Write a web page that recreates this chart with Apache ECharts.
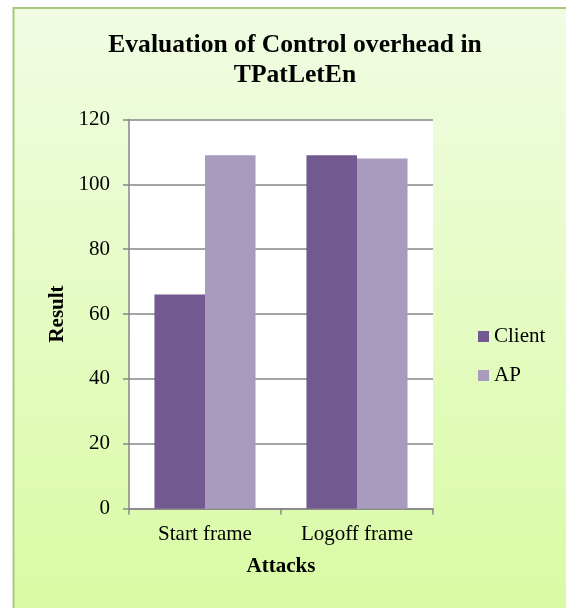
<!DOCTYPE html>
<html>
<head>
<meta charset="utf-8">
<script src="https://cdn.jsdelivr.net/npm/echarts@6/dist/echarts.min.js"></script>
<style>html,body{margin:0;padding:0;background:#fff}#c{width:566px;height:608px}</style>
</head>
<body>
<div id="c"></div>
<script>
var categories = ['Start frame', 'Logoff frame'];
var clientValues = [66, 109];
var apValues = [109, 108];
var yTicks = {min: 0, max: 120, interval: 20};

var font = '"Liberation Serif", "Times New Roman", serif';
var chart = echarts.init(document.getElementById('c'));
chart.setOption({
  backgroundColor: '#ffffff',
  animation: false,
  graphic: [{
    type: 'rect', z: -10,
    shape: {x: 13.5, y: 8, width: 570, height: 620},
    style: {
      fill: new echarts.graphic.LinearGradient(0, 0, 0, 1, [
        {offset: 0, color: '#f1fce3'},
        {offset: 1, color: '#d8fba2'}
      ]),
      stroke: '#a6c77f', lineWidth: 2
    }
  }],
  title: {
    text: 'Evaluation of Control overhead in\nTPatLetEn',
    left: 290, top: 25, textAlign: 'center',
    textStyle: {fontFamily: font, fontSize: 25.6, fontWeight: 'bold', color: '#000', lineHeight: 30}
  },
  legend: {
    orient: 'vertical', left: 473, top: 321,
    itemWidth: 11, itemHeight: 11, itemGap: 18,
    icon: 'rect',
    textStyle: {fontFamily: font, fontSize: 21, color: '#000'},
    data: ['Client', 'AP']
  },
  grid: {
    left: 129, top: 119.5, width: 304, height: 389,
    show: true, backgroundColor: '#ffffff', borderWidth: 0
  },
  xAxis: {
    type: 'category', data: categories,
    name: 'Attacks', nameLocation: 'middle', nameGap: 48,
    nameTextStyle: {fontFamily: font, fontSize: 21, fontWeight: 'bold', color: '#000'},
    axisLine: {lineStyle: {color: '#868686', width: 1.5}},
    axisTick: {show: true, length: 6, lineStyle: {color: '#868686', width: 1.5}},
    axisLabel: {fontFamily: font, fontSize: 21, color: '#000', margin: 15}
  },
  yAxis: {
    type: 'value', min: yTicks.min, max: yTicks.max, interval: yTicks.interval,
    name: 'Result', nameLocation: 'middle', nameGap: 60,
    nameTextStyle: {fontFamily: font, fontSize: 21, fontWeight: 'bold', color: '#000'},
    axisLine: {show: true, lineStyle: {color: '#868686', width: 1.5}},
    axisTick: {show: true, length: 6, lineStyle: {color: '#868686', width: 1.5}},
    axisLabel: {fontFamily: font, fontSize: 21, color: '#000', margin: 19},
    splitLine: {show: true, lineStyle: {color: '#868686', width: 1.5}}
  },
  series: [
    {name: 'Client', type: 'bar', data: clientValues, barGap: '0%', barCategoryGap: '33.5%',
     itemStyle: {color: '#725990'}},
    {name: 'AP', type: 'bar', data: apValues, barGap: '0%', barCategoryGap: '33.5%',
     itemStyle: {color: '#a99bbe'}}
  ]
});
</script>
</body>
</html>
